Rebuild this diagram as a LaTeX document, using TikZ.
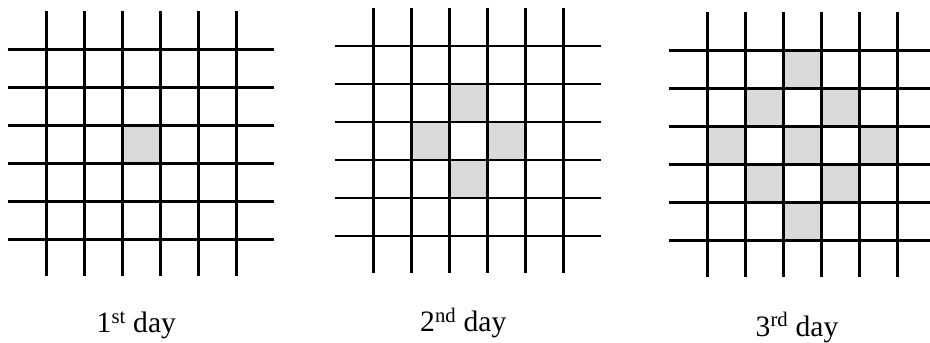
\documentclass[tikz,border=0pt]{standalone}
\usepackage{fontspec}
\setmainfont{Liberation Serif}
\definecolor{cellgray}{RGB}{217,217,217}
\tikzset{
  gridline/.style={line width=2.7pt, black},
  cellfill/.style={fill=cellgray},
  daylabel/.style={anchor=base west, inner sep=0pt, font=\fontsize{29.6}{32}\selectfont}
}
\newcommand{\daygrid}[2]{%
  \begin{scope}[shift={(#1,#2)}]
    \foreach \i in {0,...,5}{
      \draw[gridline] (38*\i,-38.4) -- (38*\i,227);
      \draw[gridline] (-38.6,38*\i) -- (227.7,38*\i);
    }
  \end{scope}}
\newcommand{\shadecell}[4]{% x0 y0 c r
  \fill[cellfill] ({#1+38*(#3-1)},{#2+38*(#4-1)}) rectangle ++(38,38);}
\begin{document}
\begin{tikzpicture}[x=1pt,y=-1pt]
\useasboundingbox (0,0) rectangle (930,343);
% day 1
\shadecell{46.3}{49.3}{3}{3}
\daygrid{46.3}{49.3}
% day 2
\shadecell{373.3}{46}{3}{2}
\shadecell{373.3}{46}{2}{3}
\shadecell{373.3}{46}{4}{3}
\shadecell{373.3}{46}{3}{4}
\daygrid{373.3}{46}
% day 3
\foreach \c/\r in {3/1,2/2,4/2,1/3,3/3,5/3,2/4,4/4,3/5}{
  \shadecell{707.3}{50.4}{\c}{\r}
}
\daygrid{707.3}{50.4}
% labels
\node[daylabel] (d1) at (96.5,332.7) {1\textsuperscript{st} day};
\node[daylabel] (d2) at (420,331.7) {2\textsuperscript{nd} day};
\node[daylabel] (d3) at (755.5,336) {3\textsuperscript{rd} day};
\end{tikzpicture}
\end{document}
